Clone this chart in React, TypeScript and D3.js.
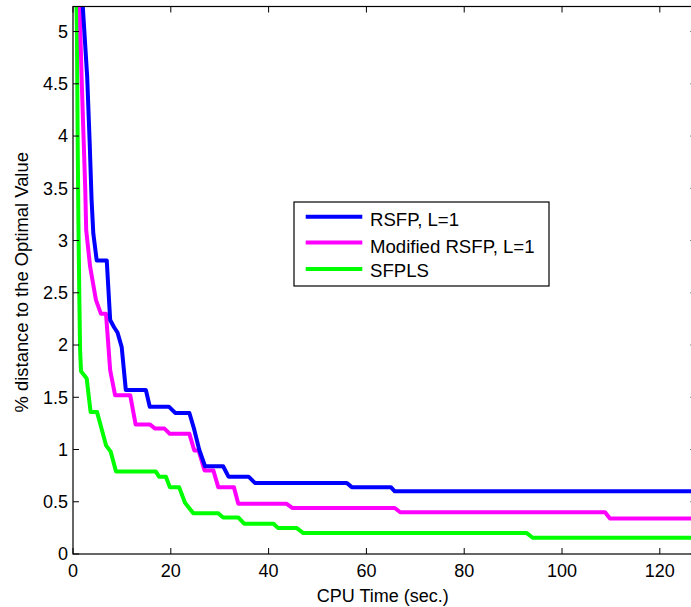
import React from "react";
import * as d3 from "d3";

// ---- data ----
const seriesNames = ["RSFP, L=1", "Modified RSFP, L=1", "SFPLS"];
const seriesColors = ["#0000ff", "#ff00ff", "#00ff00"];

const rsfpX = [1.6, 2.0, 2.9, 3.4, 3.8, 4.15, 4.85, 6.9, 7.6, 8.4, 9.1, 9.96, 10.8, 14.9, 15.7, 19.6, 20.9, 23.8, 24.8, 25.8, 27.0, 30.7, 31.8, 35.9, 37.2, 56.0, 57.0, 65.0, 65.8, 127.5];
const rsfpY = [5.5, 5.24, 4.57, 3.95, 3.39, 3.07, 2.81, 2.81, 2.24, 2.17, 2.12, 1.98, 1.57, 1.57, 1.41, 1.41, 1.35, 1.35, 1.19, 1.0, 0.84, 0.84, 0.74, 0.74, 0.68, 0.68, 0.64, 0.64, 0.6, 0.6];

const modX = [1.35, 1.5, 1.8, 2.15, 2.5, 2.7, 3.5, 4.7, 5.7, 6.75, 7.6, 8.6, 11.7, 12.8, 15.7, 16.8, 18.7, 19.8, 23.8, 24.8, 25.7, 26.9, 28.7, 29.7, 32.9, 33.8, 43.7, 44.9, 65.8, 66.9, 108.8, 109.8, 127.5];
const modY = [5.5, 5.0, 4.5, 4.0, 3.5, 3.1, 2.75, 2.43, 2.3, 2.3, 1.76, 1.52, 1.52, 1.24, 1.24, 1.2, 1.2, 1.15, 1.15, 0.99, 0.99, 0.8, 0.8, 0.64, 0.64, 0.48, 0.48, 0.44, 0.44, 0.4, 0.4, 0.34, 0.34];

const sfplsX = [0.65, 0.8, 0.95, 1.1, 1.3, 1.45, 1.64, 2.8, 3.6, 4.9, 5.9, 6.75, 7.7, 8.8, 16.9, 17.6, 19.0, 19.8, 21.7, 22.9, 24.6, 29.7, 30.7, 33.8, 35.0, 41.0, 41.9, 45.7, 47.1, 92.8, 94.0, 127.5];
const sfplsY = [5.5, 5.0, 4.0, 3.2, 2.43, 1.95, 1.75, 1.68, 1.36, 1.36, 1.19, 1.04, 0.98, 0.79, 0.79, 0.74, 0.74, 0.64, 0.64, 0.49, 0.39, 0.39, 0.35, 0.35, 0.29, 0.29, 0.25, 0.25, 0.2, 0.2, 0.156, 0.156];

const xTicks = [0, 20, 40, 60, 80, 100, 120];
const yTicks = [0, 0.5, 1, 1.5, 2, 2.5, 3, 3.5, 4, 4.5, 5];
const xDomain = [0, 127.5];
const yDomain = [0, 5.24];
const xTitle = "CPU Time (sec.)";
const yTitle = "% distance to the Optimal Value";

// ---- layout ----
const W = 691;
const H = 607;
const L = 73;
const R = 696.5;
const T = 6.5;
const B = 554;
const TICK = 6;
const FONT = "'Liberation Sans', Arial, Helvetica, sans-serif";
const FS = 18;
const LFS = 18.6;

export default function App() {
  const x = d3.scaleLinear().domain(xDomain).range([L, R]);
  const y = d3.scaleLinear().domain(yDomain).range([B, T]);
  const line = d3
    .line<[number, number]>()
    .x((d) => x(d[0]))
    .y((d) => y(d[1]));

  const series = [
    { xs: rsfpX, ys: rsfpY },
    { xs: modX, ys: modY },
    { xs: sfplsX, ys: sfplsY },
  ];

  const legend = { x: 294, y: 202, w: 255, h: 84 };
  const rowLine = [216.8, 242.4, 269];
  const rowText = [226, 252.5, 277];

  return (
    <svg
      width={W}
      height={H}
      style={{ position: "absolute", left: 0, top: 0, background: "#fff" }}
      fontFamily={FONT}
    >
      <defs>
        <clipPath id="plotclip">
          <rect x={L} y={T} width={R - L} height={B - T} />
        </clipPath>
      </defs>
      <rect x={0} y={0} width={W} height={H} fill="#fff" />

      {/* series */}
      <g clipPath="url(#plotclip)">
        {[2, 1, 0].map((i) => {
          const s = series[i];
          const pts = s.xs.map((v, k) => [v, s.ys[k]] as [number, number]);
          return (
            <path
              key={i}
              d={line(pts) || ""}
              fill="none"
              stroke={seriesColors[i]}
              strokeWidth={4}
              strokeLinejoin="round"
            />
          );
        })}
      </g>

      {/* axes box */}
      <rect x={L} y={T} width={R - L} height={B - T} fill="none" stroke="#000" strokeWidth={1.2} />

      {/* x ticks */}
      {xTicks.map((t) => (
        <g key={"x" + t}>
          <line x1={x(t)} x2={x(t)} y1={B} y2={B - TICK} stroke="#000" strokeWidth={1} />
          <line x1={x(t)} x2={x(t)} y1={T} y2={T + TICK} stroke="#000" strokeWidth={1} />
          <text x={x(t)} y={577} textAnchor="middle" fontSize={FS} fill="#000">
            {String(t)}
          </text>
        </g>
      ))}

      {/* y ticks */}
      {yTicks.map((t) => (
        <g key={"y" + t}>
          <line x1={L} x2={L + TICK} y1={y(t)} y2={y(t)} stroke="#000" strokeWidth={1} />
          <line x1={R} x2={R - TICK} y1={y(t)} y2={y(t)} stroke="#000" strokeWidth={1} />
          <text x={68} y={y(t) + 6.3} textAnchor="end" fontSize={FS} fill="#000">
            {String(t)}
          </text>
        </g>
      ))}

      {/* titles */}
      <text x={(L + R) / 2 - 2} y={601.5} textAnchor="middle" fontSize={FS} fill="#000">
        {xTitle}
      </text>
      <text
        transform={`translate(28, ${(T + B) / 2 + 2}) rotate(-90)`}
        textAnchor="middle"
        fontSize={18.4}
        fill="#000"
      >
        {yTitle}
      </text>

      {/* legend */}
      <rect x={legend.x} y={legend.y} width={legend.w} height={legend.h} fill="#fff" stroke="#000" strokeWidth={1.2} />
      {seriesNames.map((n, i) => (
        <g key={n}>
          <line x1={305.7} x2={362.3} y1={rowLine[i]} y2={rowLine[i]} stroke={seriesColors[i]} strokeWidth={4} />
          <text x={370} y={rowText[i]} fontSize={LFS} fill="#000">
            {n}
          </text>
        </g>
      ))}
    </svg>
  );
}
